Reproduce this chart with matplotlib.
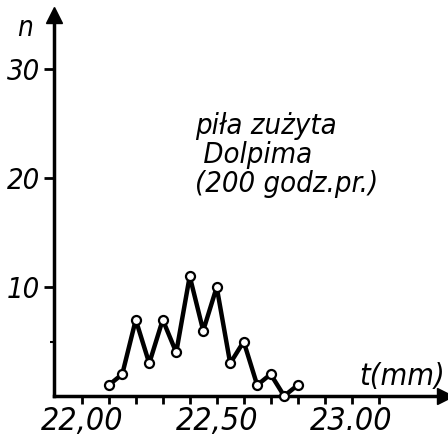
import matplotlib
matplotlib.use("Agg")
import matplotlib.pyplot as plt

# grubość wiórów - piła zużyta
t_mm = [22.10, 22.15, 22.20, 22.25, 22.30, 22.35, 22.40, 22.45,
        22.50, 22.55, 22.60, 22.65, 22.70, 22.75, 22.80]
n = [1, 2, 7, 3, 7, 4, 11, 6, 10, 3, 5, 1, 2, 0, 1]

x_ticks = [22.00, 22.50, 23.00]
x_tick_labels = ["22,00", "22,50", "23.00"]
x_minor = [22.1, 22.2, 22.3, 22.4, 22.6, 22.7, 22.8, 22.9, 23.1]
y_ticks = [10, 20, 30]
y_tick_labels = ["10", "20", "30"]

plt.rcParams["font.family"] = "DejaVu Sans"
plt.rcParams["font.style"] = "italic"
plt.rcParams["font.stretch"] = "condensed"

fig = plt.figure(figsize=(4.48, 4.38), dpi=100)
ax = fig.add_axes([0.1205, 0.0959, 0.8728, 0.870])

ax.plot(t_mm, n, color="black", linewidth=3.2, marker="o", markersize=6.5,
        markerfacecolor="white", markeredgecolor="black", markeredgewidth=1.6,
        clip_on=False, zorder=3)

ax.set_xlim(21.897, 23.346)
ax.set_ylim(0, 35)

ax.spines["top"].set_visible(False)
ax.spines["right"].set_visible(False)
ax.spines["left"].set_linewidth(2.5)
ax.spines["bottom"].set_linewidth(2.5)

# strzałki na końcach osi
ax.plot([1], [0], marker=">", color="black", markersize=11,
        transform=ax.transAxes, clip_on=False)
ax.plot([0], [1], marker="^", color="black", markersize=11,
        transform=ax.transAxes, clip_on=False)

ax.set_xticks(x_ticks)
ax.set_xticklabels(x_tick_labels, fontsize=23)
ax.set_xticks(x_minor, minor=True)
ax.set_yticks(y_ticks)
ax.set_yticklabels(y_tick_labels, fontsize=21)
ax.set_yticks([5], minor=True)
ax.tick_params(axis="x", which="both", direction="out", length=6, width=2, pad=1)
ax.tick_params(axis="y", which="major", direction="out", length=7, width=2, pad=3)
ax.tick_params(axis="y", which="minor", direction="out", length=3, width=1.5)

ax.text(-0.075, 0.966, "n", transform=ax.transAxes, fontsize=20,
        ha="center", va="center")
ax.text(1.0, 0.012, "t(mm)", transform=ax.transAxes, fontsize=22,
        ha="right", va="bottom")
ax.text(0.36, 0.52, "piła zużyta\n Dolpima\n(200 godz.pr.)",
        transform=ax.transAxes, fontsize=21, ha="left", va="bottom",
        linespacing=1.05)

plt.savefig("out.png", dpi=100)
